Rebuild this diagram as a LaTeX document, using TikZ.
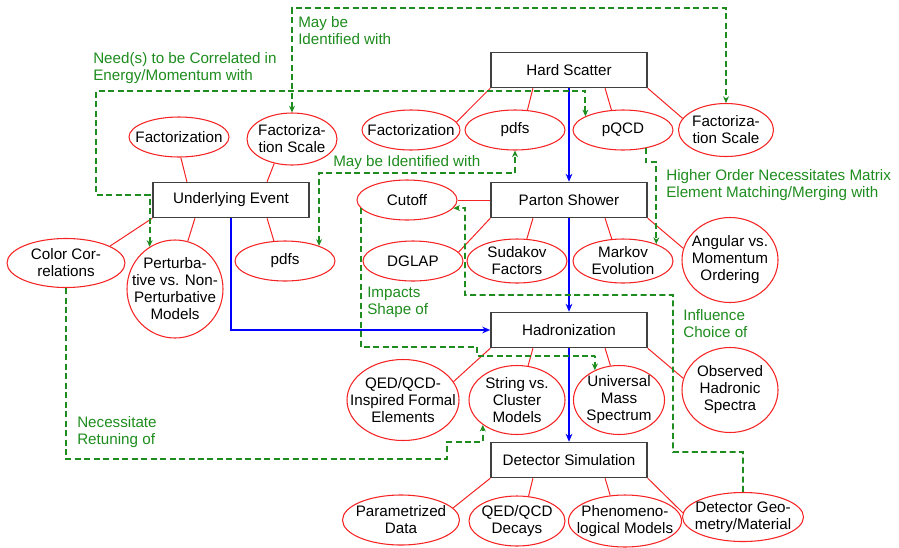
\documentclass[tikz,border=0pt]{standalone}
\usepackage{fontspec}
\setmainfont{Liberation Sans}
\usetikzlibrary{shapes.geometric,arrows.meta}
\definecolor{ered}{RGB}{245,35,35}
\definecolor{dgreen}{RGB}{30,140,30}
\newcommand{\fsz}{\fontsize{11.4}{12.75}\selectfont}
\tikzstyle{blk}=[draw=black!75,line width=1.1pt,minimum width=117pt,minimum height=26.25pt,inner sep=0pt,font=\fsz]
\tikzstyle{ell}=[ellipse,draw=ered,line width=0.8pt,inner sep=0pt]
\tikzstyle{etxt}=[align=center,inner sep=0pt,font=\fsz]
\tikzstyle{rl}=[draw=ered,line width=0.75pt]
\tikzstyle{bl}=[draw=blue,line width=1.3pt,-{Stealth[length=6pt,width=5pt]}]
\tikzstyle{gl}=[draw=dgreen,line width=1.4pt,dash pattern=on 4.5pt off 2.6pt]
\tikzstyle{gtxt}=[text=dgreen,align=left,anchor=west,inner sep=0pt,font=\fsz]

\begin{document}
\begin{tikzpicture}[x=0.75pt,y=-0.75pt,>={Stealth[length=5pt,width=4.5pt]}]
\useasboundingbox (0,0) rectangle (899,547);

% main chain
\node[blk] (hs) at (569,70) {Hard Scatter};
\node[blk] (ps) at (569,200) {Parton Shower};
\node[blk] (had) at (569,330) {Hadronization};
\node[blk] (det) at (569,460) {Detector Simulation};
\node[blk] (ue) at (231,200) {Underlying Event};

% hard scatter
\node[ell,minimum width=73.5pt,minimum height=30pt,label={[etxt]center:Factorization}] (hsfac) at (411,130) {};
\node[ell,minimum width=75pt,minimum height=30pt,label={[etxt]center:pdfs}] (hspdf) at (515,130) {};
\node[ell,minimum width=75pt,minimum height=30pt,label={[etxt]center:pQCD}] (hspqcd) at (623,130) {};
\node[ell,minimum width=71.25pt,minimum height=39.75pt,label={[etxt]center:{Factoriza-\\tion Scale}}] (hsscale) at (726,130) {};

% underlying event
\node[ell,minimum width=75pt,minimum height=30pt,label={[etxt]center:Factorization}] (uefac) at (179,137) {};
\node[ell,minimum width=67.5pt,minimum height=39pt,label={[etxt]center:{Factoriza-\\tion Scale}}] (uescale) at (292,139) {};
\node[ell,minimum width=88.5pt,minimum height=36.75pt,label={[etxt]center:{Color Cor-\\relations}}] (uecol) at (66,263) {};
\node[ell,minimum width=72pt,minimum height=73.5pt,label={[etxt]center:{Perturba-\\tive vs. Non-\\Perturbative\\Models}}] (uepert) at (175,289) {};
\node[ell,minimum width=75pt,minimum height=30pt,label={[etxt]center:pdfs}] (uepdf) at (285,261) {};

% parton shower
\node[ell,minimum width=75pt,minimum height=30pt,label={[etxt]center:Cutoff}] (pscut) at (407,200) {};
\node[ell,minimum width=75pt,minimum height=30pt,label={[etxt]center:DGLAP}] (psdglap) at (413,261) {};
\node[ell,minimum width=75pt,minimum height=33pt,label={[etxt]center:{Sudakov\\Factors}}] (pssud) at (517,261) {};
\node[ell,minimum width=75pt,minimum height=33pt,label={[etxt]center:{Markov\\Evolution}}] (psmark) at (623,261) {};
\node[ell,minimum width=72pt,minimum height=63.75pt,label={[etxt]center:{Angular vs.\\Momentum\\Ordering}}] (psang) at (730,260) {};

% hadronization
\node[ell,minimum width=84pt,minimum height=60.75pt,label={[etxt]center:{QED/QCD-\\Inspired Formal\\Elements}}] (hadqed) at (403,400) {};
\node[ell,minimum width=72pt,minimum height=51.75pt,label={[etxt]center:{String vs.\\Cluster\\Models}}] (hadstr) at (517,400) {};
\node[ell,minimum width=68.25pt,minimum height=51.75pt,label={[etxt]center:{Universal\\Mass\\Spectrum}}] (haduni) at (619,400) {};
\node[ell,minimum width=72pt,minimum height=63.75pt,label={[etxt]center:{Observed\\Hadronic\\Spectra}}] (hadobs) at (730,390) {};

% detector simulation
\node[ell,minimum width=87.75pt,minimum height=37.5pt,label={[etxt]center:{Parametrized\\Data}}] (detpar) at (401,520) {};
\node[ell,minimum width=72pt,minimum height=37.5pt,label={[etxt]center:{QED/QCD\\Decays}}] (detqed) at (517,521) {};
\node[ell,minimum width=84.75pt,minimum height=39pt,label={[etxt]center:{Phenomeno-\\logical Models}}] (detphen) at (625,521) {};
\node[ell,minimum width=90.75pt,minimum height=36.75pt,label={[etxt]center:{Detector Geo-\\metry/Material}}] (detgeo) at (743,517) {};

% red links
\draw[rl] (hs.south west) -- (hsfac.10);
\draw[rl] ([xshift=32pt]hs.south west) -- (hspdf.58);
\draw[rl] ([xshift=-32pt]hs.south east) -- (hspqcd.120);
\draw[rl] (hs.south east) -- (hsscale.165);
\draw[rl] ([xshift=26pt]ue.north west) -- (uefac.-85);
\draw[rl] ([xshift=-32pt]ue.north east) -- (uescale.-126);
\draw[rl] (ue.south west) -- (uecol.21);
\draw[rl] ([xshift=32pt]ue.south west) -- (uepert.75);
\draw[rl] ([xshift=-32pt]ue.south east) -- (uepdf.119);
\draw[rl] (ps.west) -- (pscut.east);
\draw[rl] (ps.south west) -- (psdglap.11);
\draw[rl] ([xshift=32pt]ps.south west) -- (pssud.66);
\draw[rl] ([xshift=-32pt]ps.south east) -- (psmark.117);
\draw[rl] (ps.south east) -- (psang.166);
\draw[rl] (had.south west) -- (hadqed.20);
\draw[rl] ([xshift=32pt]had.south west) -- (hadstr.72);
\draw[rl] ([xshift=-32pt]had.south east) -- (haduni.104);
\draw[rl] (had.south east) -- (hadobs.166);
\draw[rl] (det.south west) -- (detpar.13);
\draw[rl] ([xshift=32pt]det.south west) -- (detqed.65);
\draw[rl] ([xshift=-32pt]det.south east) -- (detphen.120);
\draw[rl] (det.south east) -- (detgeo.176);

% blue flow
\draw[bl] (hs) -- (ps);
\draw[bl] (ps) -- (had);
\draw[bl] (had) -- (det);
\draw[bl] (ue.south) |- (had.west);

% green relations
\draw[gl,<->] (uescale.north) |- (500,8) -| (hsscale.north);
\draw[gl,<->] (hspqcd.160) |- (96,91) -- (96,195) -| (uepert.121);
\draw[gl,<->] (uepdf.24) |- (400,173) -| (hspdf.south);
\draw[gl,->] (hspqcd.-39) |- (650,162) -| (psmark.27);
\draw[gl,->] (pscut.190) |- (477,347) |- (595,356) -| (haduni.129);
\draw[gl,->] (detgeo.north) |- (673,452) -- (673,295) -| (465,208) -- (pscut.-10);
\draw[gl,->] (uecol.south) |- (447,459) -- (447,442) -| (hadstr.-144);

\node[gtxt] (lbid) at (298,31) {May be\\Identified with};
\node[gtxt] (lbcor) at (93,68) {Need(s) to be Correlated in\\Energy/Momentum with};
\node[gtxt] (lbid2) at (333,163) {May be Identified with};
\node[gtxt] (lbme) at (666,185.5) {Higher Order Necessitates Matrix\\Element Matching/Merging with};
\node[gtxt] (lbimp) at (367,302.5) {Impacts\\Shape of};
\node[gtxt] (lbinf) at (683,323.5) {Influence\\Choice of};
\node[gtxt] (lbret) at (77,432.5) {Necessitate\\Retuning of};
\end{tikzpicture}
\end{document}
